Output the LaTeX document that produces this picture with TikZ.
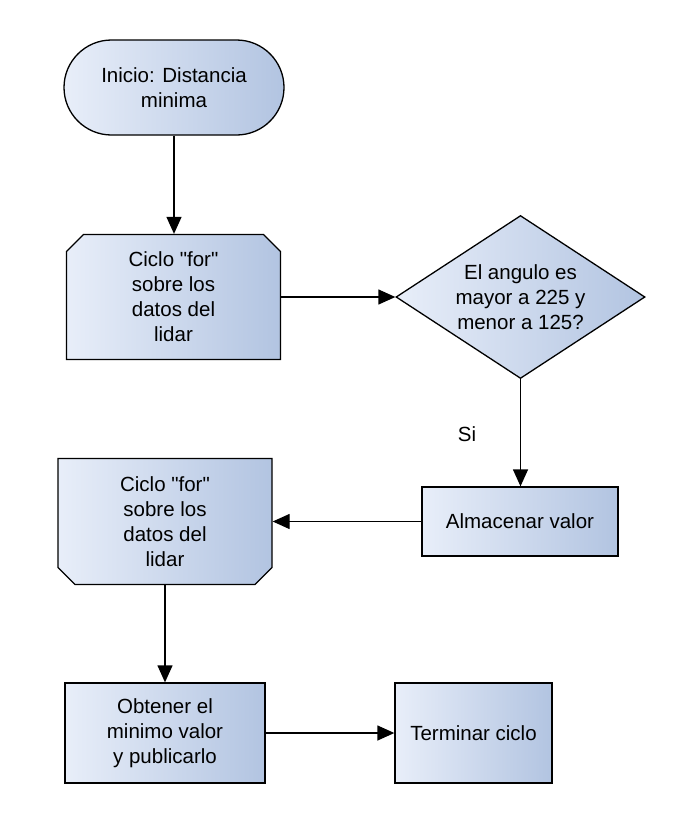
\documentclass[tikz,border=0pt]{standalone}
\usepackage{fontspec}
\setmainfont{Liberation Sans}[Ligatures=TeXOff]
\usetikzlibrary{shapes.misc,shapes.geometric,arrows.meta}
\definecolor{fillL}{RGB}{232,238,249}
\definecolor{fillR}{RGB}{178,196,225}
\begin{document}
\begin{tikzpicture}[x=1pt,y=-1pt,
  base/.style={draw=black, line width=1.3pt, left color=fillL, right color=fillR,
    align=center, font=\fontsize{20.5}{25}\selectfont, inner sep=0pt},
  startbox/.style={base, rounded rectangle, minimum width=220pt, minimum height=95pt},
  loopA/.style={base, chamfered rectangle, chamfered rectangle corners={north west,north east},
    chamfered rectangle xsep=8.5pt, chamfered rectangle ysep=8.5pt,
    minimum width=214pt, minimum height=125pt},
  loopB/.style={base, chamfered rectangle, chamfered rectangle corners={south west,south east},
    chamfered rectangle xsep=8.5pt, chamfered rectangle ysep=8.5pt,
    minimum width=214pt, minimum height=126pt},
  decision/.style={base, diamond, aspect=1.53, minimum width=249pt, minimum height=163pt},
  procbox/.style={base, rectangle},
  lbl/.style={font=\fontsize{20.5}{25}\selectfont, inner sep=0pt},
  conn/.style={line width=1.3pt, -{Triangle[length=17pt,width=15pt]}}
]
\useasboundingbox (0,0) rectangle (691,838);
\node[startbox] (start) at (174,87.5) {Inicio: Distancia\\minima};
\node[loopA] (loop1) at (173.5,297) {Ciclo "for"\\sobre los\\datos del\\lidar};
\node[decision] (dia) at (520.5,297) {El angulo es\\mayor a 225 y\\menor a 125?};
\node[procbox, minimum width=196pt, minimum height=69pt] (alm) at (520,521.5) {Almacenar valor};
\node[loopB] (loop2) at (165,521.5) {Ciclo "for"\\sobre los\\datos del\\lidar};
\node[procbox, minimum width=200pt, minimum height=100pt] (obt) at (165,733) {Obtener el\\minimo valor\\y publicarlo};
\node[procbox, minimum width=157pt, minimum height=100pt] (term) at (473.5,733) {Terminar ciclo};
\node[lbl] (si) at (467,434) {Si};

\draw[conn] (start.south) -- (start.south |- loop1.north);
\draw[conn] (loop1.east) -- (dia.west);
\draw[conn] (dia.south) -- (dia.south |- alm.north);
\draw[conn] (alm.west) -- (loop2.east);
\draw[conn] (loop2.south) -- (obt.north);
\draw[conn] (obt.east) -- (term.west);
\end{tikzpicture}
\end{document}
